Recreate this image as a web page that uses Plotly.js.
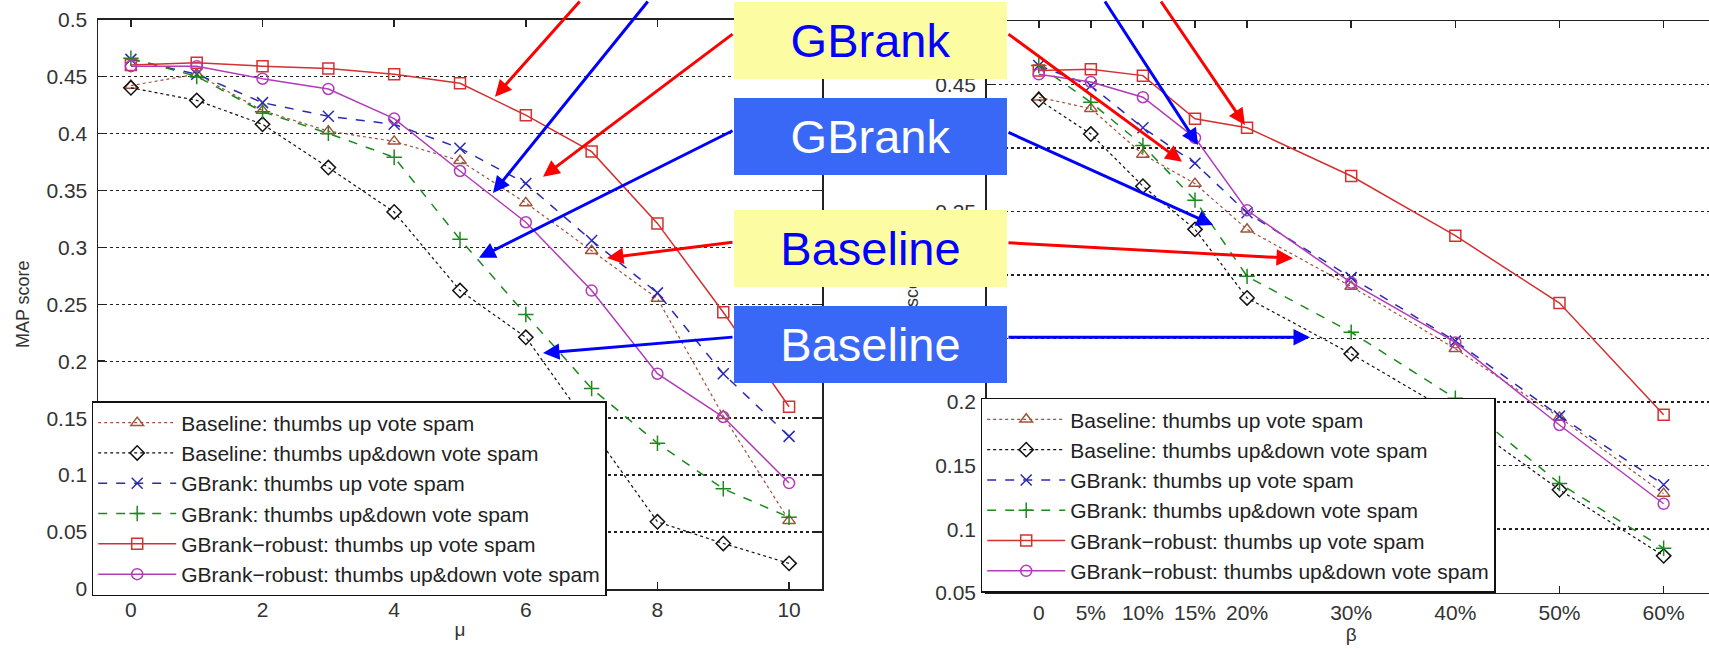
<!DOCTYPE html>
<html>
<head>
<meta charset="utf-8">
<script src="https://cdn.plot.ly/plotly-3.0.1.min.js"></script>
<style>
html,body{margin:0;padding:0;overflow:hidden;background:#fff;}
#chart{width:1716px;height:649px;}
</style>
</head>
<body>
<div id="chart"></div>
<script>
// ---------- data ----------
const mu = [0, 1, 2, 3, 4, 5, 6, 7, 8, 9, 10];
const blUpL = [0.442, 0.452, 0.420, 0.402, 0.393, 0.376, 0.339, 0.297, 0.255, 0.152, 0.060];
const blUdL = [0.440, 0.429, 0.408, 0.370, 0.331, 0.262, 0.221, 0.140, 0.059, 0.040, 0.0225];
const gbUpL = [0.465, 0.452, 0.427, 0.415, 0.408, 0.387, 0.356, 0.306, 0.260, 0.189, 0.134];
const gbUdL = [0.466, 0.450, 0.419, 0.400, 0.379, 0.307, 0.241, 0.176, 0.128, 0.088, 0.063];
const rbUpL = [0.460, 0.462, 0.459, 0.457, 0.452, 0.444, 0.416, 0.384, 0.321, 0.243, 0.160];
const rbUdL = [0.459, 0.459, 0.448, 0.439, 0.413, 0.367, 0.322, 0.262, 0.189, 0.151, 0.093];

const beta = [0, 5, 10, 15, 20, 30, 40, 50, 60];
const betaLabels = ['0', '5%', '10%', '15%', '20%', '30%', '40%', '50%', '60%'];
const blUpR = [0.440, 0.431, 0.395, 0.372, 0.336, 0.291, 0.242, 0.188, 0.128];
const blUdR = [0.438, 0.411, 0.370, 0.336, 0.282, 0.238, 0.190, 0.131, 0.079];
const gbUpR = [0.465, 0.449, 0.416, 0.388, 0.349, 0.298, 0.248, 0.189, 0.135];
const gbUdR = [0.465, 0.436, 0.402, 0.359, 0.299, 0.255, 0.203, 0.136, 0.085];
const rbUpR = [0.461, 0.462, 0.457, 0.423, 0.416, 0.378, 0.331, 0.278, 0.190];
const rbUdR = [0.458, 0.452, 0.440, 0.408, 0.351, 0.294, 0.247, 0.182, 0.120];

const seriesNames = [
  'Baseline: thumbs up vote spam',
  'Baseline: thumbs up&down vote spam',
  'GBrank: thumbs up vote spam',
  'GBrank: thumbs up&down vote spam',
  'GBrank\u2212robust: thumbs up vote spam',
  'GBrank\u2212robust: thumbs up&down vote spam'
];
const labelTexts = ['GBrank', 'GBrank', 'Baseline', 'Baseline'];

// ---------- styles ----------
const W = 1716, H = 649;
const FONT = 'Arial, "Liberation Sans", Helvetica, sans-serif';
const styles = [
  {color: '#a0523a', dash: 'dot',   symbol: 'triangle-up-open', lw: 1.2},
  {color: '#111111', dash: 'dot',   symbol: 'diamond-open',     lw: 1.2},
  {color: '#2a2ab4', dash: 'dash',  symbol: 'x-thin-open',      lw: 1.5},
  {color: '#1d8a1d', dash: 'dash',  symbol: 'cross-thin-open',  lw: 1.5},
  {color: '#d43030', dash: 'solid', symbol: 'square-open',      lw: 1.5},
  {color: '#b23cb8', dash: 'solid', symbol: 'circle-open',      lw: 1.5}
];

function mk(x, y, i, xa, ya, leg) {
  const s = styles[i];
  return {
    x: x, y: y, xaxis: xa, yaxis: ya, legend: leg,
    name: seriesNames[i], type: 'scatter', mode: 'lines+markers',
    line: {color: s.color, dash: s.dash, width: s.lw},
    marker: {symbol: s.symbol, size: 11, color: s.color, line: {color: s.color, width: 1.5}}
  };
}
const left = [blUpL, blUdL, gbUpL, gbUdL, rbUpL, rbUdL];
const right = [blUpR, blUdR, gbUpR, gbUdR, rbUpR, rbUdR];
const data = [];
left.forEach((v, i) => data.push(mk(mu, v, i, 'x', 'y', 'legend')));
right.forEach((v, i) => data.push(mk(beta, v, i, 'x2', 'y2', 'legend2')));

function px(x) { return x / W; }
function py(y) { return 1 - y / H; }

const axCommon = {
  showline: true, linecolor: '#222', linewidth: 1.5, mirror: 'ticks',
  ticks: 'inside', ticklen: 7, tickwidth: 1.5, tickcolor: '#222',
  zeroline: false, fixedrange: true,
  tickfont: {family: FONT, size: 21, color: '#333'},
  ticklabelstandoff: 5
};
const yCommon = Object.assign({}, axCommon, {
  showgrid: true, gridcolor: '#222', gridwidth: 1.4, griddash: '3px,3px',
  dtick: 0.05,
  title: {text: 'MAP score', font: {family: FONT, size: 18, color: '#333'}, standoff: 12}
});

const legendCommon = {
  bgcolor: '#ffffff', bordercolor: '#111', borderwidth: 1.5,
  font: {family: FONT, size: 21, color: '#222'},
  xanchor: 'left', yanchor: 'top', itemwidth: 78, tracegroupgap: 0,
  orientation: 'v'
};

// annotation label boxes (slide overlay) drawn as annotations so they cover axis titles
const boxTop = [2, 98.3, 210, 306];
const boxBot = [79.3, 175.7, 287.3, 383.3];
const boxFill = ['#fcfca2', '#3a68f6', '#fcfca2', '#3a68f6'];
const boxText = ['#0000ff', '#ffffff', '#0000ff', '#ffffff'];
const boxX0 = 734, boxX1 = 1007;

const annotations = boxTop.map((t, i) => ({
  xref: 'paper', yref: 'paper', x: px((boxX0 + boxX1) / 2), y: py((t + boxBot[i]) / 2),
  xanchor: 'center', yanchor: 'middle', showarrow: false,
  width: boxX1 - boxX0, height: boxBot[i] - t, align: 'center', valign: 'middle',
  bgcolor: boxFill[i], borderpad: 0, borderwidth: 0,
  text: labelTexts[i], font: {family: FONT, size: 47, color: boxText[i]}
}));

// arrows: [tipX, tipY, tailX, tailY, color]
const arrows = [
  [495, 96.7, 581, -10, '#ff0000'],
  [493, 193, 649, -10, '#0000ff'],
  [543, 176.7, 734, 33, '#ff0000'],
  [479, 257.7, 734, 130, '#0000ff'],
  [607, 258, 734, 242, '#ff0000'],
  [543, 353, 734, 337, '#0000ff'],
  [1182, 161.7, 1007, 33, '#ff0000'],
  [1213, 225, 1007, 131.7, '#0000ff'],
  [1293, 258.3, 1007, 242.7, '#ff0000'],
  [1310, 337.3, 1007, 337.3, '#0000ff'],
  [1198, 145, 1104, -10, '#0000ff'],
  [1245, 125, 1160, -10, '#ff0000']
];
arrows.forEach(a => annotations.push({
  xref: 'paper', yref: 'paper', x: px(a[0]), y: py(a[1]),
  ax: a[2] - a[0], ay: a[3] - a[1], axref: 'pixel', ayref: 'pixel',
  text: '', showarrow: true, arrowhead: 2, arrowsize: 1.1, arrowwidth: 3,
  arrowcolor: a[4], standoff: 0, startstandoff: 0
}));

const layout = {
  width: W, height: H, autosize: false,
  margin: {l: 0, r: 0, t: 0, b: 0, pad: 0},
  paper_bgcolor: '#ffffff', plot_bgcolor: '#ffffff',
  font: {family: FONT, color: '#333'},
  showlegend: true,
  xaxis: Object.assign({}, axCommon, {
    domain: [px(98), px(822)], anchor: 'y', range: [-0.5, 10.5],
    tickvals: [0, 2, 4, 6, 8, 10], showgrid: false, ticklabelstandoff: 1,
    title: {text: '\u03bc', font: {family: FONT, size: 19, color: '#333'}, standoff: 3}
  }),
  yaxis: Object.assign({}, yCommon, {
    domain: [py(589), py(19.5)], anchor: 'x', range: [0, 0.5], tick0: 0
  }),
  xaxis2: Object.assign({}, axCommon, {
    domain: [px(986.7), px(1715.7)], anchor: 'y2', range: [-5, 65],
    tickvals: beta, ticktext: betaLabels, showgrid: false, ticklabelstandoff: 1,
    title: {text: '\u03b2', font: {family: FONT, size: 19, color: '#333'}, standoff: 3}
  }),
  yaxis2: Object.assign({}, yCommon, {
    domain: [py(592.7), py(21)], anchor: 'x2', range: [0.05, 0.5], tick0: 0.05
  }),
  legend: Object.assign({}, legendCommon, {x: px(91.7), y: py(401)}),
  legend2: Object.assign({}, legendCommon, {x: px(980.7), y: py(397.7)}),
  annotations: annotations
};

Plotly.newPlot('chart', data, layout, {staticPlot: true, displayModeBar: false});
</script>
</body>
</html>
